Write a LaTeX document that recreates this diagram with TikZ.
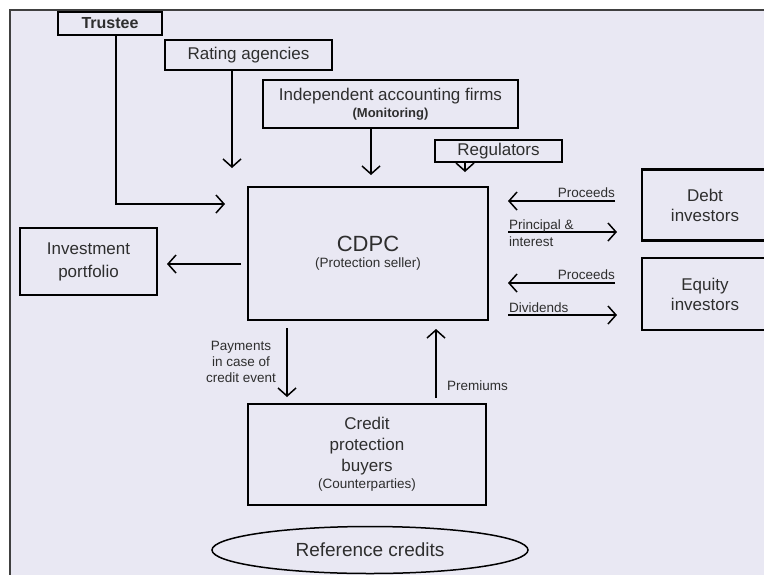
\documentclass[tikz,border=0pt]{standalone}
\usepackage{fontspec}
\setmainfont{Liberation Sans}
\usetikzlibrary{arrows.meta,shapes.geometric}
\definecolor{paper}{HTML}{E9E8F3}
\definecolor{ink}{HTML}{2E2E2E}
\newcommand\mainsize{\fontsize{17}{20}\selectfont}
\newcommand\smallsize{\fontsize{13.5}{16}\selectfont}
\begin{document}
\begin{tikzpicture}[x=1pt,y=-1pt,
  box/.style={draw=black, line width=2.8pt, rectangle, inner sep=0pt,
    align=center, text=ink, font=\mainsize},
  thinbox/.style={box, line width=1.5pt},
  flow/.style={draw=black, line width=1.5pt,
    -{Straight Barb[length=8pt,width=18pt]}},
  lbl/.style={text=ink, font=\smallsize, inner sep=0pt}
]
\useasboundingbox (0,0) rectangle (764,574);
\clip (0,0) rectangle (764,574);

% page background and frame
\fill[white] (0,0) rectangle (764,574);
\fill[paper] (10,10) rectangle (780,590);
\draw[line width=1.5pt, draw=black!75] (10,590) -- (10,10) -- (780,10);

% parties
\node[box, minimum width=104pt, minimum height=23pt, font=\fontsize{16}{19}\selectfont\bfseries]
  (trustee) at (110,23.5) {Trustee};
\node[thinbox, minimum width=167pt, minimum height=30pt] (rating) at (248.5,55) {Rating agencies};
\node[box, minimum width=255pt, minimum height=48pt] (indep) at (390.5,104)
  {Independent accounting firms\\[-3pt]{\fontsize{13}{15}\selectfont\bfseries (Monitoring)}};
\node[box, minimum width=127pt, minimum height=22pt] (reg) at (498.5,151) {Regulators};
\node[box, minimum width=240pt, minimum height=133pt] (cdpc) at (368,253.5)
  {{\fontsize{22}{24}\selectfont CDPC}\\[-4pt]{\smallsize (Protection seller)}};
\node[box, minimum width=137pt, minimum height=67pt, font=\fontsize{17}{23}\selectfont]
  (invest) at (88.5,261.5) {Investment\\portfolio};
\node[box, minimum width=126pt, minimum height=71pt] (debt) at (705,205) {Debt\\investors};
\node[box, minimum width=126pt, minimum height=72pt] (equity) at (705,294) {Equity\\investors};
\node[thinbox, minimum width=238pt, minimum height=101pt, font=\fontsize{17}{21}\selectfont]
  (cpb) at (367,454.5)
  {Credit\\protection\\buyers\\[-4pt]{\smallsize (Counterparties)}};
\node[draw=black, line width=1.5pt, ellipse, minimum width=316pt, minimum height=47pt,
  inner sep=0pt, text=ink, font=\fontsize{19}{22}\selectfont] (refcr) at (370,550) {Reference credits};

% connector end points
\coordinate (trusteeTip) at (225,204);
\coordinate (ratingTip) at (232,168);
\coordinate (indepTip) at (371,175);
\coordinate (regTip) at (465,172);
\coordinate (investFrom) at (241,264);
\coordinate (investTip) at (167,264);
\coordinate (debtInFrom) at (615,201);
\coordinate (debtInTip) at (508,201);
\coordinate (debtOutFrom) at (508,232);
\coordinate (debtOutTip) at (617,232);
\coordinate (eqInFrom) at (615,283);
\coordinate (eqInTip) at (508,283);
\coordinate (eqOutFrom) at (508,315);
\coordinate (eqOutTip) at (617,315);
\coordinate (payFrom) at (287,328);
\coordinate (payTip) at (287,397);
\coordinate (premFrom) at (436,398);
\coordinate (premTip) at (436,329);

% flows
\draw[flow] (trustee.south -| 116,0) |- (trusteeTip);
\draw[flow] (rating.south -| ratingTip) -- (ratingTip);
\draw[flow] (indep.south -| indepTip) -- (indepTip);
\draw[flow] (reg.south -| regTip) -- (regTip);
\draw[flow] (investFrom) -- (investTip);
\draw[flow] (debtInFrom) -- (debtInTip);
\draw[flow] (debtOutFrom) -- (debtOutTip);
\draw[flow] (eqInFrom) -- (eqInTip);
\draw[flow] (eqOutFrom) -- (eqOutTip);
\draw[flow] (payFrom) -- (payTip);
\draw[flow] (premFrom) -- (premTip);

% flow labels
\node[lbl, anchor=base east] (lProcD) at (615,197.5) {Proceeds};
\node[lbl, anchor=base west] (lPrin) at (509,229) {Principal \&};
\node[lbl, anchor=base west] (lInt) at (509,246) {interest};
\node[lbl, anchor=base east] (lProcE) at (615,279.5) {Proceeds};
\node[lbl, anchor=base west] (lDiv) at (509,312.5) {Dividends};
\node[lbl, align=center, font=\fontsize{13.5}{16}\selectfont] (lPay) at (241,362)
  {Payments\\in case of\\credit event};
\node[lbl, anchor=base west] (lPrem) at (447,390.5) {Premiums};
\end{tikzpicture}
\end{document}
